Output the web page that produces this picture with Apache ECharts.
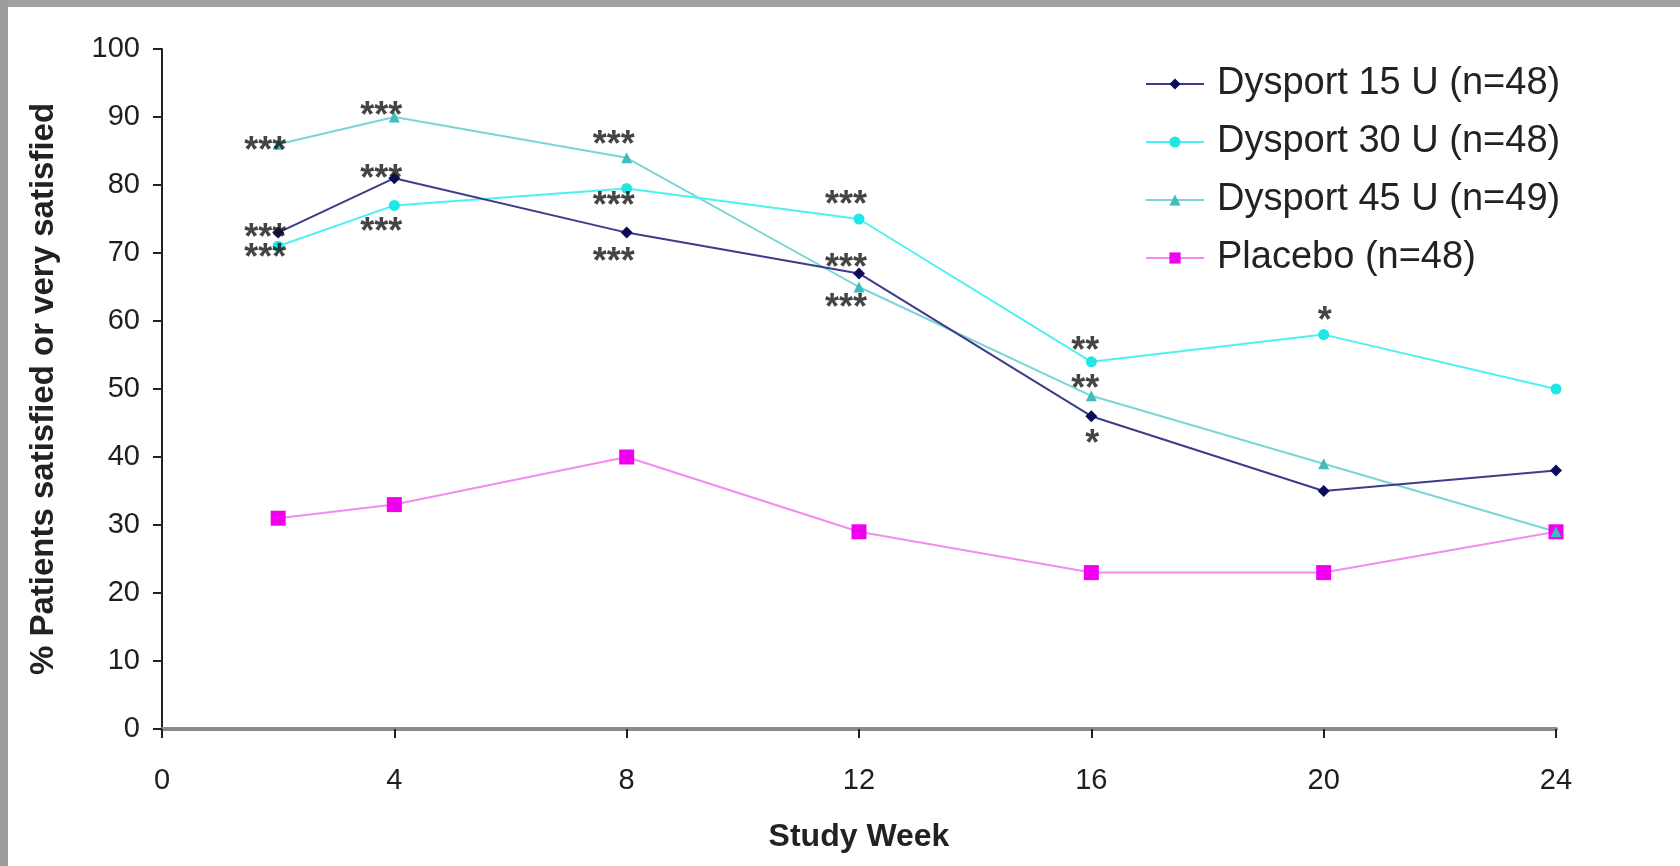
<!DOCTYPE html>
<html>
<head>
<meta charset="utf-8">
<script src="https://cdn.jsdelivr.net/npm/echarts@6/dist/echarts.min.js"></script>
<style>
  html, body { margin: 0; padding: 0; background: #fff; }
  #chart { width: 1680px; height: 866px; }
</style>
</head>
<body>
<div id="chart"></div>
<script>
const weeks = [2, 4, 8, 12, 16, 20, 24];
const seriesNames = ['Dysport 15 U (n=48)', 'Dysport 30 U (n=48)', 'Dysport 45 U (n=49)', 'Placebo (n=48)'];
const dysport15 = [73, 81, 73, 67, 46, 35, 38];
const dysport30 = [71, 77, 79.5, 75, 54, 58, 50];
const dysport45 = [86, 90, 84, 65, 49, 39, 29];
const placebo = [31, 33, 40, 29, 23, 23, 29];

// significance marks shown next to the points
const starWeeks = [2, 2, 2, 4, 4, 4, 8, 8, 8, 12, 12, 12, 16, 16, 16, 20];
const starValues = [86.2, 73.4, 70.5, 91.3, 82, 74.2, 87.1, 78.1, 69.9, 78.2, 68.9, 63.1, 56.8, 51.1, 43.1, 61.2];
const starText = ['***', '***', '***', '***', '***', '***', '***', '***', '***', '***', '***', '***', '**', '**', '*', '*'];

const xTicks = [0, 4, 8, 12, 16, 20, 24];

const chart = echarts.init(document.getElementById('chart'), null, { renderer: 'canvas' });

const pairs = (vals) => weeks.map((w, i) => [w, vals[i]]);
const font = 'Liberation Sans, Arial, sans-serif';

function lineSeries(name, vals, symbol, size, lineColor, markColor) {
  return {
    name: name,
    type: 'line',
    data: pairs(vals),
    symbol: symbol,
    symbolSize: size,
    lineStyle: { color: lineColor, width: 2 },
    itemStyle: { color: markColor },
    emphasis: { disabled: true }
  };
}

let option = {
  backgroundColor: '#fff',
  animation: false,
  graphic: [
    { type: 'rect', left: 0, top: 0, shape: { width: 1680, height: 7 }, style: { fill: '#a2a2a2' }, z: 100 },
    { type: 'rect', left: 0, top: 0, shape: { width: 8, height: 866 }, style: { fill: '#9c9c9c' }, z: 100 }
  ],
  grid: { left: 162, right: 124, top: 49, bottom: 137 },
  legend: {
    data: seriesNames,
    orient: 'vertical',
    left: 1140,
    top: 60,
    itemWidth: 58,
    itemHeight: 14,
    itemGap: 20,
    textStyle: { fontFamily: font, fontSize: 38, color: '#222', padding: [0, 0, 0, 8] }
  },
  xAxis: {
    type: 'value',
    min: 0,
    max: 24,
    interval: 4,
    name: 'Study Week',
    nameLocation: 'middle',
    nameGap: 92,
    nameTextStyle: { fontFamily: font, fontSize: 32, fontWeight: 'bold', color: '#222' },
    axisLine: { lineStyle: { color: '#8a8a8a', width: 4 } },
    axisTick: { show: true, length: 9, lineStyle: { color: '#222', width: 2 } },
    axisLabel: { fontFamily: font, fontSize: 29, color: '#1e1e1e', margin: 37,
      formatter: (v) => xTicks.indexOf(v) >= 0 ? String(v) : '' },
    splitLine: { show: false }
  },
  yAxis: {
    type: 'value',
    min: 0,
    max: 100,
    interval: 10,
    name: '% Patients satisfied or very satisfied',
    nameLocation: 'middle',
    nameGap: 102,
    nameTextStyle: { fontFamily: font, fontSize: 33, fontWeight: 'bold', color: '#222' },
    axisLine: { show: true, lineStyle: { color: '#222', width: 2 } },
    axisTick: { show: true, length: 9, lineStyle: { color: '#222', width: 2 } },
    axisLabel: { fontFamily: font, fontSize: 29, color: '#1e1e1e', margin: 22 },
    splitLine: { show: false }
  },
  series: [
    lineSeries(seriesNames[3], placebo, 'rect', 15, '#f28cf0', '#f000ee'),
    lineSeries(seriesNames[2], dysport45, 'triangle', 11, '#7ad6d6', '#3fbcbc'),
    lineSeries(seriesNames[1], dysport30, 'circle', 11, '#4ff0f0', '#22e6e6'),
    lineSeries(seriesNames[0], dysport15, 'diamond', 12, '#3c3c8c', '#0c0c5a'),
    {
      name: 'stars',
      type: 'scatter',
      data: starWeeks.map((w, i) => [w, starValues[i], starText[i]]),
      symbolSize: 0,
      silent: true,
      z: 5,
      label: {
        show: true,
        position: 'inside',
        align: 'right',
        verticalAlign: 'middle',
        offset: [8, 9],
        formatter: (p) => p.data[2],
        fontFamily: font,
        fontSize: 36,
        fontWeight: 'bold',
        color: '#151515'
      }
    }
  ]
};

window.addEventListener('resize', function () {
  chart.resize();
});

option && chart.setOption(option);
</script>
</body>
</html>
